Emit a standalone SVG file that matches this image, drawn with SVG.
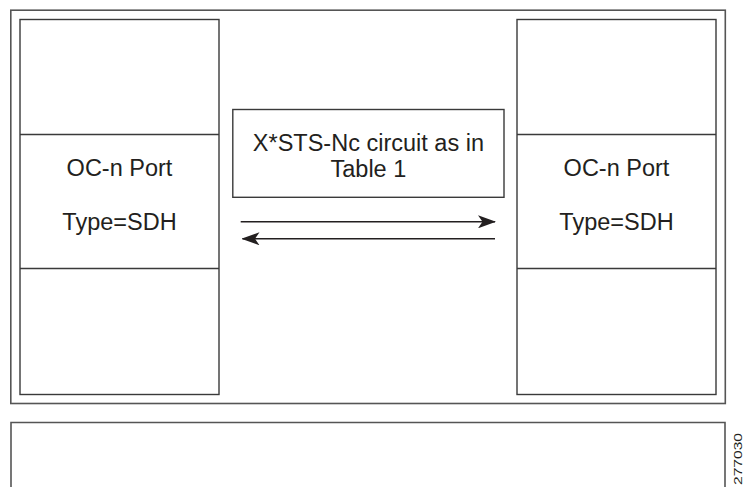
<svg xmlns="http://www.w3.org/2000/svg" width="745" height="487" viewBox="0 0 745 487">
  <style>
    .frame { fill: none; stroke: #555; stroke-width: 1.6; }
    .box { fill: #fff; stroke: #3a3a3a; stroke-width: 1.4; }
    .div { stroke: #3a3a3a; stroke-width: 1.4; }
    .lbl { font-family: "Liberation Sans", Arial, Helvetica, sans-serif; font-size: 23.5px; fill: #231f20; text-anchor: middle; }
    .link { stroke: #231f20; stroke-width: 1.6; fill: none; }
    .tag { font-family: "Liberation Sans", Arial, sans-serif; font-size: 11px; fill: #231f20; }
  </style>
  <defs>
    <marker id="head" viewBox="0 0 18 13" refX="17" refY="6.5" markerWidth="18" markerHeight="13" markerUnits="userSpaceOnUse" orient="auto">
      <path d="M0,0 L18,6.5 L0,13 L4.5,6.5 Z" fill="#231f20"/>
    </marker>
  </defs>
  <rect width="745" height="487" fill="#fff"/>

  <!-- shelf frame -->
  <g id="shelf">
    <rect class="frame" x="10.8" y="10.2" width="714.5" height="393.3"/>
  </g>

  <!-- lower frame, cut off at the page edge -->
  <g id="lower-shelf">
    <path class="frame" d="M11,490 V422.5 H725 V490"/>
  </g>

  <!-- left port card -->
  <g id="port-left">
    <rect class="box" x="20" y="19.5" width="199" height="375"/>
    <line class="div" x1="20" y1="134.5" x2="219" y2="134.5"/>
    <line class="div" x1="20" y1="268.5" x2="219" y2="268.5"/>
    <text class="lbl" x="119.5" y="175.5">OC-n Port</text>
    <text class="lbl" x="119.5" y="229.5">Type=SDH</text>
  </g>

  <!-- right port card -->
  <g id="port-right">
    <rect class="box" x="517" y="19.5" width="199" height="375"/>
    <line class="div" x1="517" y1="134.5" x2="716" y2="134.5"/>
    <line class="div" x1="517" y1="268.5" x2="716" y2="268.5"/>
    <text class="lbl" x="616.5" y="175.5">OC-n Port</text>
    <text class="lbl" x="616.5" y="229.5">Type=SDH</text>
  </g>

  <!-- circuit label -->
  <g id="circuit">
    <rect class="box" x="232.8" y="109.5" width="271.2" height="87.8"/>
    <text class="lbl" x="368.4" y="150.8">X*STS-Nc circuit as in</text>
    <text class="lbl" x="368.4" y="177.3">Table 1</text>
  </g>

  <!-- connectors -->
  <g id="connectors">
    <line class="link" x1="240.7" y1="221.8" x2="495" y2="221.8" marker-end="url(#head)"/>
    <line class="link" x1="495" y1="238.8" x2="242.5" y2="238.8" marker-end="url(#head)"/>
  </g>

  <!-- figure number -->
  <text class="tag" transform="translate(742,485) rotate(-90)" x="0" y="0" textLength="52" lengthAdjust="spacingAndGlyphs">277030</text>
</svg>
